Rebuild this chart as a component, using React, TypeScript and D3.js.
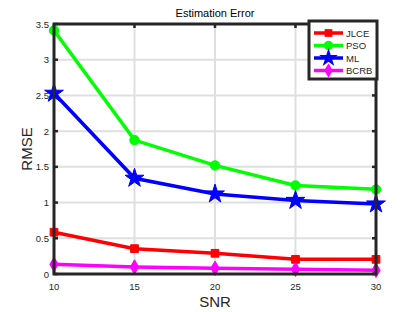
import React from "react";
import * as d3 from "d3";

const snr = [10, 15, 20, 25, 30];
const jlce = [0.585, 0.355, 0.29, 0.205, 0.205];
const pso = [3.41, 1.875, 1.52, 1.24, 1.185];
const ml = [2.53, 1.34, 1.12, 1.03, 0.98];
const bcrb = [0.135, 0.098, 0.08, 0.066, 0.052];
const yTicks = [0, 0.5, 1, 1.5, 2, 2.5, 3, 3.5];
const seriesNames = ["JLCE", "PSO", "ML", "BCRB"];

const colors = ["#ff0000", "#00ff00", "#0000ff", "#ff00ff"];
const shapes = [d3.symbolSquare, d3.symbolCircle, d3.symbolStar, d3.symbolDiamond];
const sizes = [60, 70, 110, 60];

const W = 415;
const H = 312;
const margin = { top: 24, right: 39, bottom: 38, left: 54 };

const App = () => {
  const x = d3
    .scaleLinear()
    .domain([10, 30])
    .range([margin.left, W - margin.right]);
  const y = d3
    .scaleLinear()
    .domain([0, 3.5])
    .range([H - margin.bottom, margin.top]);

  const allSeries = [jlce, pso, ml, bcrb];
  const line = d3
    .line<number>()
    .x((d, i) => x(snr[i]))
    .y((d) => y(d));

  const axisColor = "#262626";
  const x0 = x(10), x1 = x(30), y0 = y(0), y1 = y(3.5);

  // legend
  const lgX = 309, lgY = 21, lgW = 68, lgH = 58;

  return (
    <svg width={W} height={H} style={{ position: "absolute", left: 0, top: 0 }}>
      <rect width={W} height={H} fill="#fff" />
      {/* grid */}
      {snr.map((v) => (
        <line key={"gx" + v} x1={x(v)} x2={x(v)} y1={y0} y2={y1} stroke="#dfdfdf" strokeWidth={2} />
      ))}
      {yTicks.map((v) => (
        <line key={"gy" + v} x1={x0} x2={x1} y1={y(v)} y2={y(v)} stroke="#dfdfdf" strokeWidth={2} />
      ))}
      {/* ticks */}
      {snr.map((v) => (
        <g key={"tx" + v}>
          <line x1={x(v)} x2={x(v)} y1={y0} y2={y0 - 4} stroke={axisColor} strokeWidth={2.5} />
          <line x1={x(v)} x2={x(v)} y1={y1} y2={y1 + 4} stroke={axisColor} strokeWidth={2.5} />
          <text x={x(v)} y={y0 + 16} textAnchor="middle" fontSize={9.5} fontFamily="Liberation Sans, Arial" fill={axisColor}>
            {v}
          </text>
        </g>
      ))}
      {yTicks.map((v) => (
        <g key={"ty" + v}>
          <line x1={x0} x2={x0 + 4} y1={y(v)} y2={y(v)} stroke={axisColor} strokeWidth={2.5} />
          <line x1={x1} x2={x1 - 4} y1={y(v)} y2={y(v)} stroke={axisColor} strokeWidth={2.5} />
          <text x={x0 - 5} y={y(v) + 3.5} textAnchor="end" fontSize={9.5} fontFamily="Liberation Sans, Arial" fill={axisColor}>
            {v}
          </text>
        </g>
      ))}
      {/* lines */}
      {allSeries.map((s, k) => (
        <g key={"s" + k}>
          <path d={line(s) || ""} fill="none" stroke={colors[k]} strokeWidth={3.5} />
          {s.map((v, i) => (
            <path
              key={i}
              d={d3.symbol().type(shapes[k]).size(sizes[k])() || ""}
              transform={`translate(${x(snr[i])},${y(v)})`}
              fill={colors[k]}
              stroke={colors[k]}
              strokeWidth={1}
            />
          ))}
        </g>
      ))}
      {/* box */}
      <rect x={x0} y={y1} width={x1 - x0} height={y0 - y1} fill="none" stroke={axisColor} strokeWidth={3} />
      {/* legend */}
      <rect x={lgX} y={lgY} width={lgW} height={lgH} fill="#fff" stroke={axisColor} strokeWidth={3} />
      {seriesNames.map((n, k) => {
        const ly = lgY + 12 + k * 12.5;
        return (
          <g key={n}>
            <line x1={lgX + 5} x2={lgX + 34} y1={ly} y2={ly} stroke={colors[k]} strokeWidth={3.5} />
            <path
              d={d3.symbol().type(shapes[k]).size(sizes[k])() || ""}
              transform={`translate(${lgX + 19.5},${ly})`}
              fill={colors[k]}
            />
            <text x={lgX + 37} y={ly + 3.5} fontSize={9.5} fontFamily="Liberation Sans, Arial" fill={axisColor}>
              {n}
            </text>
          </g>
        );
      })}
      {/* labels */}
      <text x={(x0 + x1) / 2} y={17} textAnchor="middle" fontSize={11} fontFamily="Liberation Sans, Arial" fill="#000">
        Estimation Error
      </text>
      <text x={(x0 + x1) / 2} y={307} textAnchor="middle" fontSize={15} fontFamily="Liberation Sans, Arial" fill={axisColor}>
        SNR
      </text>
      <text
        transform={`translate(32,${(y0 + y1) / 2}) rotate(-90)`}
        textAnchor="middle"
        fontSize={15}
        fontFamily="Liberation Sans, Arial"
        fill={axisColor}
      >
        RMSE
      </text>
    </svg>
  );
};

export default App;
